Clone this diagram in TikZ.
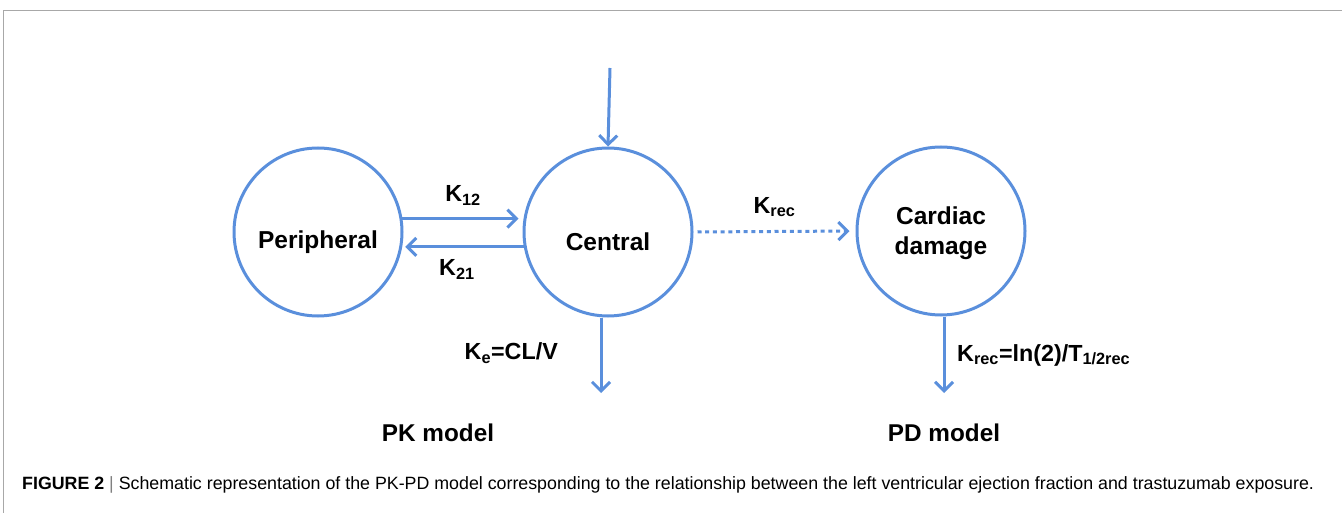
\documentclass[tikz,border=0pt]{standalone}
\usepackage{fontspec}
\setmainfont{Liberation Sans}
\usetikzlibrary{arrows.meta}
\definecolor{pkblue}{HTML}{5A8FDC}
\definecolor{framegray}{HTML}{A8A8A8}
\begin{document}
\begin{tikzpicture}[x=1pt,y=-1pt,
  comp/.style={circle,draw=pkblue,line width=3pt,minimum size=168pt,inner sep=0pt},
  compname/.style={font=\fontsize{24.5}{30}\selectfont\bfseries,align=center,inner sep=0pt},
  flow/.style={draw=pkblue,line width=3pt,-{Straight Barb[length=9pt,width=18pt,line width=3pt]}},
  rate/.style={font=\fontsize{23.3}{28}\selectfont\bfseries,inner sep=0pt},
  model/.style={font=\fontsize{24.3}{29}\selectfont\bfseries,inner sep=0pt}]
\useasboundingbox (0,0) rectangle (1342,513);
\draw[framegray,line width=1.5pt] (1342,10.5)--(3.5,10.5)--(3.5,513);
\node[comp] (periph) at (318,232) {};
\node[comp] (central) at (608,232) {};
\node[comp] (cardiac) at (941,231) {};
\node[compname] (periphname) at ([yshift=-10pt]periph.center) {Peripheral};
\node[compname] (centralname) at ([yshift=-10pt]central.center) {Central};
\node[compname] (cardiacname) at ([yshift=-2pt]cardiac.center) {Cardiac\\damage};
\coordinate (dose) at (610,68);
\coordinate (pkout) at (601,393);
\coordinate (pdout) at (944,393);
\draw[flow] (dose)--(central.north);
\draw[flow,shorten >=5pt] (periph.9)--(central.171)node[pos=0.5,above=12pt,rate](k12){K\textsubscript{12}};
\draw[flow,shorten >=3pt] (central.190)--(periph.-10)node[pos=0.55,below=11pt,rate](k21){K\textsubscript{21}};
\draw[flow,dash pattern=on 4pt off 3.7pt,shorten <=4pt,shorten >=6pt] (central.east)--(cardiac.west)node[pos=0.5,above=13pt,rate](krec){K\textsubscript{rec}};
\draw[flow] (pkout|-central.south)--(pkout);
\draw[flow] (pdout|-cardiac.south)--(pdout);
\node[rate,anchor=east] (ke) at (558,353) {K\textsubscript{e}=CL/V};
\node[rate,anchor=west] (krecdef) at (957,355) {K\textsubscript{rec}=ln(2)/T\textsubscript{1/2rec}};
\node[model] (pk) at (438,433) {PK model};
\node[model] (pd) at (944,433) {PD model};
\node[anchor=west,inner sep=0pt,font=\fontsize{17.8}{21}\selectfont] (caption) at (22,485)
  {\textbf{FIGURE 2} {\color{gray}|} Schematic representation of the PK-PD model corresponding to the relationship between the left ventricular ejection fraction and trastuzumab exposure.};
\end{tikzpicture}
\end{document}
